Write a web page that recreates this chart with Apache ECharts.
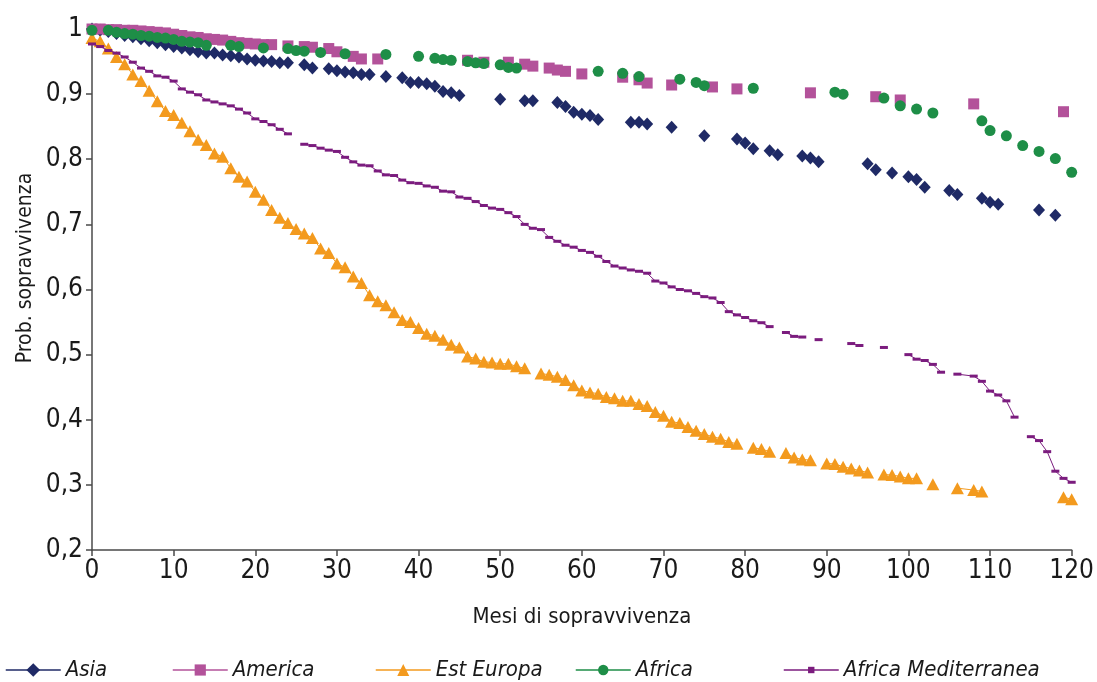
<!DOCTYPE html>
<html>
<head>
<meta charset="utf-8">
<title>Probabilità di sopravvivenza per area di provenienza</title>
<script src="https://cdn.jsdelivr.net/npm/echarts@6/dist/echarts.min.js"></script>
<style>
  html, body { margin: 0; padding: 0; background: #ffffff; }
  #chart { width: 1097px; height: 682px; }
</style>
</head>
<body>
<div id="chart"></div>
<script>
// Kaplan–Meier style survival estimates: [month, probability]; a null probability breaks the line.
const asiaPoints = [
  [0,1],[1,0.998],[2,0.996],[3,0.993],[4,0.99],[5,0.988],[6,0.985],[7,0.982],[8,0.979],[9,0.976],
  [10,0.973],[11,0.971],[12,0.968],[13,0.965],[14,0.963],[15,0.963],[16,0.96],[17,0.959],[18,0.957],
  [19,0.954],[20,0.952],[21,0.951],[22,0.95],[23,0.948],[24,0.948],[26,0.945],[27,0.94],[29,0.939],
  [30,0.936],[31,0.934],[32,0.933],[33,0.93],[34,0.93],[36,0.927],[38,0.925],[39,0.918],[40,0.918],
  [41,0.916],[42,0.912],[43,0.904],[44,0.902],[45,0.898],[50,0.892],[53,0.89],[54,0.89],[57,0.887],
  [58,0.881],[59,0.872],[60,0.869],[61,0.867],[62,0.861],[66,0.857],[67,0.857],[68,0.854],[71,0.849],
  [75,0.836],[79,0.831],[80,0.825],[81,0.816],[83,0.813],[84,0.807],[87,0.805],[88,0.802],[89,0.796],
  [95,0.793],[96,0.784],[98,0.779],[100,0.773],[101,0.769],[102,0.757],[105,0.752],[106,0.746],
  [109,0.74],[110,0.734],[111,0.731],[116,0.722],[118,0.714]
];

const americaPoints = [
  [0,1],[1,1],[2,0.999],[3,0.999],[4,0.998],[5,0.998],[6,0.997],[7,0.996],[8,0.995],[9,0.994],
  [10,0.992],[11,0.99],[12,0.988],[13,0.987],[14,0.985],[15,0.984],[16,0.983],[17,0.981],[18,0.979],
  [19,0.978],[20,0.977],[21,0.976],[22,0.976],[24,0.974],[26,0.973],[27,0.972],[29,0.97],[30,0.965],
  [32,0.958],[33,0.954],[35,0.954],[46,0.952],[48,0.949],[51,0.949],[53,0.946],[54,0.943],[56,0.94],
  [57,0.937],[58,0.935],[60,0.931],[65,0.926],[67,0.922],[68,0.917],[71,0.914],[76,0.911],[79,0.908],
  [88,0.902],[96,0.896],[99,0.891],[108,0.885],[119,0.873]
];

const estEuropaPoints = [
  [0,0.986],[1,0.981],[2,0.97],[3,0.957],[4,0.946],[5,0.93],[6,0.92],[7,0.905],[8,0.889],[9,0.874],
  [10,0.868],[11,0.856],[12,0.843],[13,0.83],[14,0.822],[15,0.809],[16,0.804],[17,0.786],[18,0.773],
  [19,0.766],[20,0.75],[21,0.738],[22,0.722],[23,0.71],[24,0.702],[25,0.693],[26,0.686],[27,0.679],
  [28,0.663],[29,0.656],[30,0.64],[31,0.634],[32,0.62],[33,0.61],[34,0.591],[35,0.582],[36,0.576],
  [37,0.565],[38,0.553],[39,0.55],[40,0.541],[41,0.532],[42,0.529],[43,0.523],[44,0.515],[45,0.511],
  [46,0.497],[47,0.494],[48,0.489],[49,0.488],[50,0.486],[51,0.486],[52,0.482],[53,0.479],[54,null],
  [55,0.471],[56,0.469],[57,0.466],[58,0.461],[59,0.453],[60,0.445],[61,0.442],[62,0.44],[63,0.435],
  [64,0.433],[65,0.429],[66,0.429],[67,0.424],[68,0.421],[69,0.412],[70,0.406],[71,0.397],[72,0.395],
  [73,0.389],[74,0.383],[75,0.378],[76,0.374],[77,0.371],[78,0.366],[79,0.363],[80,null],[81,0.357],
  [82,0.355],[83,0.351],[84,null],[85,0.349],[86,0.342],[87,0.339],[88,0.338],[89,null],[90,0.333],
  [91,0.332],[92,0.328],[93,0.325],[94,0.322],[95,0.319],[96,null],[97,0.316],[98,0.315],[99,0.313],
  [100,0.31],[101,0.31],[102,null],[103,0.301],[104,null],[106,0.295],[108,0.292],[109,0.29],
  [110,null],[119,0.281],[120,0.278]
];

const africaPoints = [
  [0,0.998],[2,0.998],[3,0.995],[4,0.993],[5,0.992],[6,0.99],[7,0.989],[8,0.987],[9,0.986],[10,0.984],
  [11,0.981],[12,0.98],[13,0.979],[14,0.975],[17,0.975],[18,0.973],[21,0.971],[24,0.97],[25,0.967],
  [26,0.966],[28,0.964],[31,0.962],[36,0.961],[40,0.958],[42,0.955],[43,0.953],[44,0.952],[46,0.95],
  [47,0.948],[48,0.947],[50,0.945],[51,0.941],[52,0.94],[62,0.935],[65,0.932],[67,0.927],[72,0.923],
  [74,0.918],[75,0.913],[81,0.909],[91,0.903],[92,0.9],[97,0.894],[99,0.882],[101,0.877],[103,0.871],
  [109,0.859],[110,0.844],[112,0.836],[114,0.821],[116,0.812],[118,0.801],[120,0.78]
];

const africaMedPoints = [
  [0,0.977],[1,0.973],[2,0.967],[3,0.963],[4,0.957],[5,0.949],[6,0.94],[7,0.935],[8,0.928],[9,0.926],
  [10,0.92],[11,0.908],[12,0.903],[13,0.899],[14,0.891],[15,0.888],[16,0.885],[17,0.882],[18,0.877],
  [19,0.871],[20,0.862],[21,0.858],[22,0.853],[23,0.846],[24,0.839],[25,null],[26,0.823],[27,0.821],
  [28,0.817],[29,0.814],[30,0.812],[31,0.803],[32,0.796],[33,0.791],[34,0.79],[35,0.782],[36,0.776],
  [37,0.775],[38,0.768],[39,0.764],[40,0.763],[41,0.759],[42,0.757],[43,0.751],[44,0.75],[45,0.742],
  [46,0.74],[47,0.735],[48,0.729],[49,0.725],[50,0.723],[51,0.718],[52,0.712],[53,0.7],[54,0.694],
  [55,0.692],[56,0.68],[57,0.674],[58,0.668],[59,0.665],[60,0.66],[61,0.657],[62,0.651],[63,0.643],
  [64,0.636],[65,0.633],[66,0.63],[67,0.628],[68,0.625],[69,0.613],[70,0.61],[71,0.604],[72,0.6],
  [73,0.598],[74,0.594],[75,0.589],[76,0.587],[77,0.58],[78,0.566],[79,0.561],[80,0.557],[81,0.552],
  [82,0.549],[83,0.543],[84,null],[85,0.534],[86,0.528],[87,0.527],[88,null],[89,0.523],[90,null],
  [93,0.517],[94,0.514],[95,null],[97,0.511],[98,null],[100,0.5],[101,0.493],[102,0.491],[103,0.485],
  [104,0.473],[105,null],[106,0.47],[108,0.467],[109,0.459],[110,0.444],[111,0.438],[112,0.429],
  [113,0.404],[114,null],[115,0.374],[116,0.368],[117,0.351],[118,0.321],[119,0.31],[120,0.304]
];

const seriesNames = ['Asia', 'America', 'Est Europa', 'Africa', 'Africa Mediterranea'];
const xAxisTitle = 'Mesi di sopravvivenza';
const yAxisTitle = 'Prob. sopravvivenza';

const FONT = "'Liberation Sans Narrow', 'DejaVu Sans Condensed', 'Arial Narrow', sans-serif";
const AXIS_COLOR = '#4a4a4a';

const chart = echarts.init(document.getElementById('chart'), null, { renderer: 'canvas' });

function probLabel(v) {
  const r = Math.round(v * 10) / 10;
  return r === 1 ? '1' : r.toFixed(1).replace('.', ',');
}

function markerSeries(name, points, color, symbol, symbolSize, lineWidth, z) {
  return {
    name: name,
    type: 'line',
    data: points,
    symbol: symbol,
    symbolSize: symbolSize,
    showSymbol: true,
    showAllSymbol: true,
    connectNulls: false,
    clip: false,
    z: z,
    itemStyle: { color: color, borderWidth: 0, opacity: 1 },
    lineStyle: { color: color, width: lineWidth },
    emphasis: { disabled: true },
    animation: false
  };
}

// One legend block per series so each entry sits in its own column.
function legendFor(name, left, iconHeight) {
  return {
    data: [name],
    left: left,
    top: 654,
    padding: 5,
    orient: 'horizontal',
    itemWidth: 55,
    itemHeight: iconHeight,
    selectedMode: false,
    lineStyle: { width: 1.5 },
    textStyle: { fontFamily: FONT, fontSize: 22, fontStyle: 'italic', color: '#1a1a1a' }
  };
}

chart.setOption({
  backgroundColor: '#ffffff',
  animation: false,
  grid: { left: 92, right: 21, top: 29, bottom: 132, containLabel: false },
  xAxis: {
    type: 'value',
    min: 0,
    max: 120,
    interval: 10,
    name: xAxisTitle,
    nameLocation: 'middle',
    nameGap: 56,
    nameTextStyle: { fontFamily: FONT, fontSize: 22, color: '#1a1a1a' },
    axisLine: { onZero: false, lineStyle: { color: AXIS_COLOR, width: 1.5 } },
    axisTick: { show: true, length: 6, inside: false, lineStyle: { color: AXIS_COLOR, width: 1.5 } },
    axisLabel: { fontFamily: FONT, fontSize: 26, color: '#1a1a1a', margin: 8 },
    splitLine: { show: false }
  },
  yAxis: {
    type: 'value',
    min: 0.2,
    max: 1,
    interval: 0.1,
    axisLine: { show: true, onZero: false, lineStyle: { color: AXIS_COLOR, width: 1.5 } },
    axisTick: { show: true, length: 6, inside: false, lineStyle: { color: AXIS_COLOR, width: 1.5 } },
    axisLabel: { fontFamily: FONT, fontSize: 26, color: '#1a1a1a', margin: 9, formatter: probLabel },
    splitLine: { show: false }
  },
  graphic: [{
    type: 'text',
    x: 26,
    y: 268,
    rotation: Math.PI / 2,
    silent: true,
    style: {
      text: yAxisTitle,
      font: "21px " + FONT,
      fill: '#1a1a1a',
      align: 'center',
      verticalAlign: 'middle'
    }
  }],
  legend: [
    legendFor('Asia', 0, 17),
    legendFor('America', 167, 14),
    legendFor('Est Europa', 370, 15),
    legendFor('Africa', 570, 13),
    legendFor('Africa Mediterranea', 778, 8)
  ],
  series: [
    markerSeries(seriesNames[0], asiaPoints, '#1f2a66', 'diamond', [12, 13], 0, 2),
    markerSeries(seriesNames[1], americaPoints, '#b3529a', 'rect', [11, 11], 0, 3),
    markerSeries(seriesNames[2], estEuropaPoints, '#f39a1e', 'triangle', [13, 12], 1, 4),
    markerSeries(seriesNames[3], africaPoints, '#1e8e47', 'circle', 11, 0, 5),
    markerSeries(seriesNames[4], africaMedPoints, '#7b1c7e', 'rect', [8, 3], 1, 6)
  ]
});
</script>
</body>
</html>
